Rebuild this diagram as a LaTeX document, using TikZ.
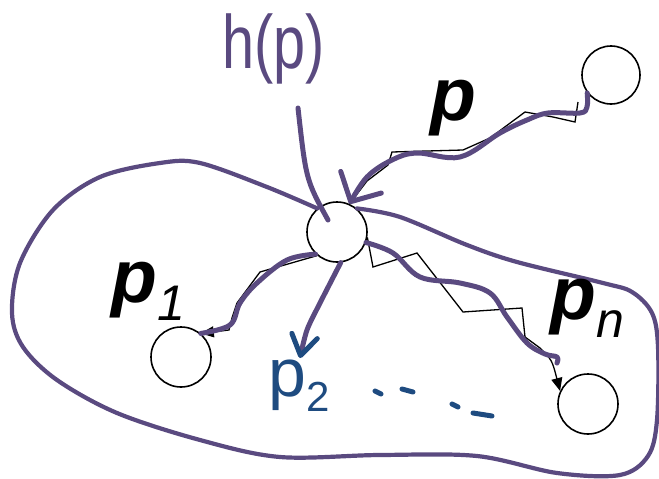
\documentclass[tikz,border=0pt]{standalone}
\usepackage{fontspec}
\setmainfont{Liberation Sans}
\usetikzlibrary{arrows.meta,calc}
\definecolor{plum}{RGB}{90,74,128}
\definecolor{denim}{RGB}{30,75,128}
\tikzset{
  peer/.style={circle,draw=black,line width=1.6pt,minimum size=60pt,inner sep=0pt},
  ink/.style={draw=#1,line width=5pt,line cap=round,line join=round},
  ink/.default=plum,
  walk/.style={draw=black,line width=1.3pt,line join=miter},
  hop/.style={-{Triangle[length=13pt,width=11pt]}},
  scrawl/.style={-{Straight Barb[length=22pt,width=46pt,round,color=#1]}},
  scrawl/.default=plum,
  tag/.style={anchor=base west,inner sep=0pt,font=\fontsize{75}{75}\selectfont\bfseries\itshape},
  hand/.style={anchor=base west,inner sep=0pt,text=#1,font=\fontsize{72}{72}\selectfont},
  hand/.default=plum,
}
\newcommand{\idx}[1]{{\fontsize{50}{50}\selectfont\mdseries\raisebox{-18pt}{#1}}}

\begin{document}
\begin{tikzpicture}[x=1pt,y=-1pt]
  \useasboundingbox (0,0) rectangle (659,479);
  % hosts
  \node[peer] (c) at (337,232) {};
  \node[peer,minimum size=58pt] (src) at (611,75) {};
  \node[peer] (d1) at (181,357) {};
  \node[peer] (dn) at (588,404) {};
  % region
  \draw[ink,line width=4.2pt] plot[smooth,tension=0.55] coordinates {(c.50) (400,217) (467,245) (517,262)
    (603,283) (632,292) (652,313) (658,347) (657,420) (648,456) (620,475) (557,473) (477,456) (380,455)
    (280,457) (200,440) (117,413) (57,380) (23,347) (12,313) (20,263) (53,210) (100,177) (160,163)
    (200,163) (267,187) (c.130)};
  % walks
  \coordinate (w0) at (578,102);
  \draw[walk] (w0) -- (575,122) -- (553,117) -- (525,112) -- (490,138) -- (463,150) -- (392,152)
    -- (388,165) -- (367,181) -- (c.66);
  \draw[walk,hop] (c.230) -- (260,272) -- (237,303) -- (232,318) -- (229,330) -- (d1.50);
  \draw[walk,hop] (c.-10) -- (373,267) -- (417,253) -- (463,312) -- (522,308) -- (525,337)
    -- (540,348) .. controls (552,360) .. (dn.155);
  % pen strokes
  \draw[ink,scrawl] plot[smooth,tension=0.6] coordinates {(src.217) (587,107) (580,113) (548,113)
    (527,120) (500,133) (460,157) (417,153) (392,160) (367,177) (c.66)};
  \draw[ink] plot[smooth,tension=0.6] coordinates {(c.226) (287,260) (257,283) (240,303) (230,325)
    (d1.50)};
  \coordinate (t2) at (300,358);
  \draw[ink,-{Straight Barb[length=20pt,width=26pt,round,color=denim]}] plot[smooth] coordinates {(c.277)
    (320,303) (307,330) (t2)};
  \coordinate (tn) at (557,363);
  \draw[ink] plot[smooth,tension=0.6] coordinates {(c.-20) (393,253) (420,277) (460,283) (490,293)
    (507,317) (527,343) (545,354) (557,357) (tn)};
  \coordinate (hpfoot) at (298,108);
  \draw[ink] (hpfoot) .. controls (306,180) .. ($(c)+(-9,-12)$);
  % labels
  \node[tag] (lp) at (430,120) {p};
  \node[tag] (lp1) at (111,302) {p\idx{1}};
  \node[tag] (lpn) at (550,319) {p\idx{n}};
  \node[hand] (hp) at (222,68) {\scalebox{0.8}[1.05]{h(p)}};
  \node[hand=denim,font=\fontsize{68}{68}\selectfont] (lp2) at (268,396)
    {p{\fontsize{42}{42}\selectfont\raisebox{-15pt}{2}}};
  \foreach \a/\b in {375/391,402/389,452/404,473/413}
    \draw[ink=denim,line width=5pt] (\a,\b) -- ++(\ifnum\a=402 11\else\ifnum\a=473 19\else 6\fi\fi,3);
\end{tikzpicture}
\end{document}
